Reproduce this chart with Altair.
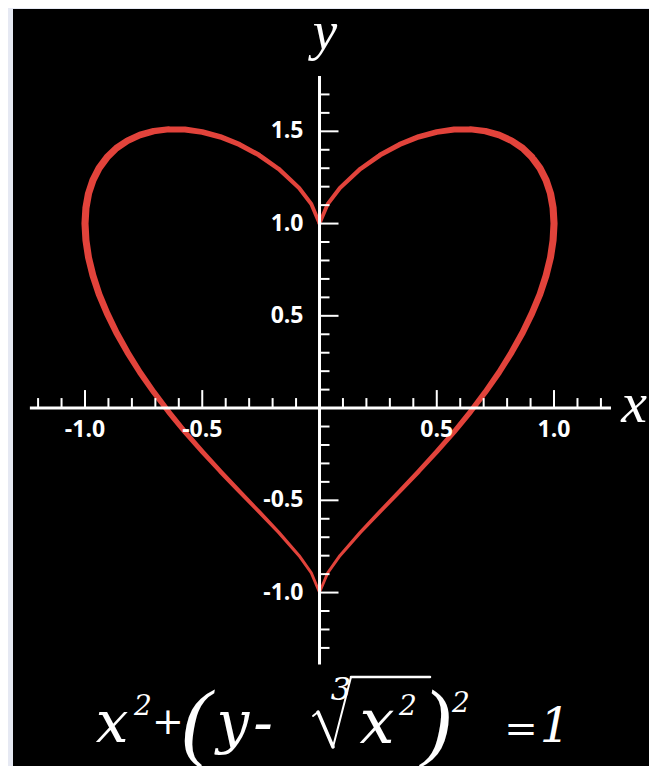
import altair as alt
import pandas as pd

# ---- heart curve points (right lobe, top cusp -> bottom tip)
right_x = [0.000, 0.035, 0.087, 0.174, 0.259, 0.342, 0.423, 0.500, 0.574, 0.643,
           0.707, 0.766, 0.819, 0.866, 0.906, 0.940, 0.966, 0.985, 0.996, 1.000,
           0.996, 0.985, 0.966, 0.940, 0.906, 0.866, 0.819, 0.766, 0.707, 0.643,
           0.574, 0.500, 0.423, 0.342, 0.259, 0.174, 0.087, 0.035, 0.000]
right_y = [1.000, 1.106, 1.193, 1.296, 1.372, 1.429, 1.470, 1.496, 1.510, 1.511,
           1.501, 1.480, 1.449, 1.409, 1.359, 1.301, 1.236, 1.163, 1.085, 1.000,
           0.910, 0.816, 0.718, 0.617, 0.514, 0.409, 0.302, 0.194, 0.087, -0.021,
           -0.129, -0.236, -0.343, -0.451, -0.560, -0.674, -0.800, -0.893, -1.000]
# left lobe
left_x = [0.000, -0.035, -0.087, -0.174, -0.259, -0.342, -0.423, -0.500, -0.574, -0.643,
          -0.707, -0.766, -0.819, -0.866, -0.906, -0.940, -0.966, -0.985, -0.996, -1.000,
          -0.996, -0.985, -0.966, -0.940, -0.906, -0.866, -0.819, -0.766, -0.707, -0.643,
          -0.574, -0.500, -0.423, -0.342, -0.259, -0.174, -0.087, -0.035, 0.000]
left_y = [1.000, 1.106, 1.193, 1.296, 1.372, 1.429, 1.470, 1.496, 1.510, 1.511,
          1.501, 1.480, 1.449, 1.409, 1.359, 1.301, 1.236, 1.163, 1.085, 1.000,
          0.910, 0.816, 0.718, 0.617, 0.514, 0.409, 0.302, 0.194, 0.087, -0.021,
          -0.129, -0.236, -0.343, -0.451, -0.560, -0.674, -0.800, -0.893, -1.000]

# ---- axes
x_axis_span = [-1.235, 1.243]
y_axis_span = [-1.39, 1.80]
x_major = [-1.0, -0.5, 0.5, 1.0]
x_minor = [-1.2, -1.1, -0.9, -0.8, -0.7, -0.6, -0.4, -0.3, -0.2, -0.1,
           0.1, 0.2, 0.3, 0.4, 0.6, 0.7, 0.8, 0.9, 1.1, 1.2]
x_labels = ["-1.0", "-0.5", "0.5", "1.0"]
y_major = [-1.0, -0.5, 0.5, 1.0, 1.5]
y_minor = [-1.3, -1.2, -1.1, -0.9, -0.8, -0.7, -0.6, -0.4, -0.3, -0.2, -0.1,
           0.1, 0.2, 0.3, 0.4, 0.6, 0.7, 0.8, 0.9, 1.1, 1.2, 1.3, 1.4, 1.6, 1.7]
y_labels = ["-1.0", "-0.5", "0.5", "1.0", "1.5"]

HEART = "#e2433b"
WHITE = "#ffffff"
BG = "#e6e9f3"

heart_df = pd.concat([
    pd.DataFrame({"x": right_x, "y": right_y, "side": "right", "i": range(len(right_x))}),
    pd.DataFrame({"x": left_x, "y": left_y, "side": "left", "i": range(len(left_x))}),
], ignore_index=True)

xs = alt.Scale(domain=[-1.307, 1.405], nice=False, zero=False)
ys = alt.Scale(domain=[-1.940, 2.163], nice=False, zero=False)

# stroke tapers: thick on the lobes, thin toward the cusp and the bottom tip
heart = alt.Chart(heart_df).transform_calculate(
    w="3.2 + 3.4*abs(datum.x) + 0.5*datum.y"
).mark_trail(color=HEART).encode(
    x=alt.X("x:Q", scale=xs, axis=None),
    y=alt.Y("y:Q", scale=ys, axis=None),
    detail="side:N",
    order="i:Q",
    size=alt.Size("w:Q", scale=None, legend=None),
)

xaxis_line = alt.Chart(pd.DataFrame({"a": [x_axis_span[0]], "b": [x_axis_span[1]]})).mark_rule(
    color=WHITE, strokeWidth=3).encode(
    x=alt.X("a:Q", scale=xs), x2="b:Q", y=alt.datum(0, scale=ys))
yaxis_line = alt.Chart(pd.DataFrame({"a": [y_axis_span[0]], "b": [y_axis_span[1]]})).mark_rule(
    color=WHITE, strokeWidth=3).encode(
    y=alt.Y("a:Q", scale=ys), y2="b:Q", x=alt.datum(0, scale=xs))

xminor_t = alt.Chart(pd.DataFrame({"v": x_minor})).mark_rule(
    color=WHITE, strokeWidth=2, y2Offset=-10).encode(
    x=alt.X("v:Q", scale=xs), y=alt.datum(0), y2=alt.datum(0))
xmajor_t = alt.Chart(pd.DataFrame({"v": x_major})).mark_rule(
    color=WHITE, strokeWidth=2, y2Offset=-18).encode(
    x=alt.X("v:Q", scale=xs), y=alt.datum(0), y2=alt.datum(0))
yminor_t = alt.Chart(pd.DataFrame({"v": y_minor})).mark_rule(
    color=WHITE, strokeWidth=2, x2Offset=10).encode(
    y=alt.Y("v:Q", scale=ys), x=alt.datum(0), x2=alt.datum(0))
ymajor_t = alt.Chart(pd.DataFrame({"v": y_major})).mark_rule(
    color=WHITE, strokeWidth=2, x2Offset=19).encode(
    y=alt.Y("v:Q", scale=ys), x=alt.datum(0), x2=alt.datum(0))

xlab = alt.Chart(pd.DataFrame({"v": x_major, "t": x_labels})).mark_text(
    color=WHITE, font="Open Sans", fontWeight="bold", fontSize=23, dy=22,
    align="center", baseline="middle").encode(
    x=alt.X("v:Q", scale=xs), y=alt.datum(0), text="t:N")
ylab = alt.Chart(pd.DataFrame({"v": y_major, "t": y_labels})).mark_text(
    color=WHITE, font="Open Sans", fontWeight="bold", fontSize=23, dx=-16,
    align="right", baseline="middle").encode(
    y=alt.Y("v:Q", scale=ys), x=alt.datum(0), text="t:N")


def piece(s, x, y, size, italic=True, font="DejaVu Serif", align="center"):
    return alt.Chart(pd.DataFrame({"a": [0]})).mark_text(
        text=s, font=font, fontSize=size,
        fontStyle="italic" if italic else "normal", color=WHITE,
        align=align, baseline="alphabetic").encode(x=alt.value(x), y=alt.value(y))


def stroke(x1, y1, x2, y2, w):
    return alt.Chart(pd.DataFrame({"a": [0]})).mark_rule(
        color=WHITE, strokeWidth=w, strokeCap="round").encode(
        x=alt.value(x1), y=alt.value(y1), x2=alt.value(x2), y2=alt.value(y2))


LS = "Liberation Serif"
eq = [
    piece("x", 99, 733, 58),
    piece("2", 130, 706, 28),
    piece("+", 155, 725, 38, italic=False),
    piece("(", 183, 741, 86, font=LS),
    piece("y", 220, 733, 58),
    piece("-", 250, 733, 58),
    piece("3", 328, 691, 32),
    piece("x", 364, 734, 62),
    piece("2", 395, 706, 28),
    piece(")", 424, 741, 86, font=LS),
    piece("2", 448, 703, 28),
    piece("=", 508, 733, 40, italic=False),
    piece("1", 542, 733, 48),
]
# cube-root sign drawn as strokes: hook, down stroke, up stroke, vinculum
radical = [
    stroke(300, 707, 305, 703, 2),
    stroke(305, 703, 320, 738, 3.5),
    stroke(320, 738, 338, 668, 2),
    stroke(338, 668, 417, 668, 2.5),
]

titles = [
    piece("x", 621, 413, 58, font=LS),
    piece("y", 312, 40, 55, font=LS),
]

chart = alt.layer(
    heart, xaxis_line, yaxis_line, xminor_t, xmajor_t, yminor_t, ymajor_t,
    xlab, ylab, *radical, *eq, *titles,
).properties(
    width=636, height=757,
    padding={"left": 5, "top": 1, "right": 0, "bottom": 0},
    autosize=alt.AutoSizeParams(type="none"),
    background=BG,
).configure_view(fill="black", strokeWidth=0)

chart.save("out.html", embed_options={"renderer": "svg", "actions": False})
